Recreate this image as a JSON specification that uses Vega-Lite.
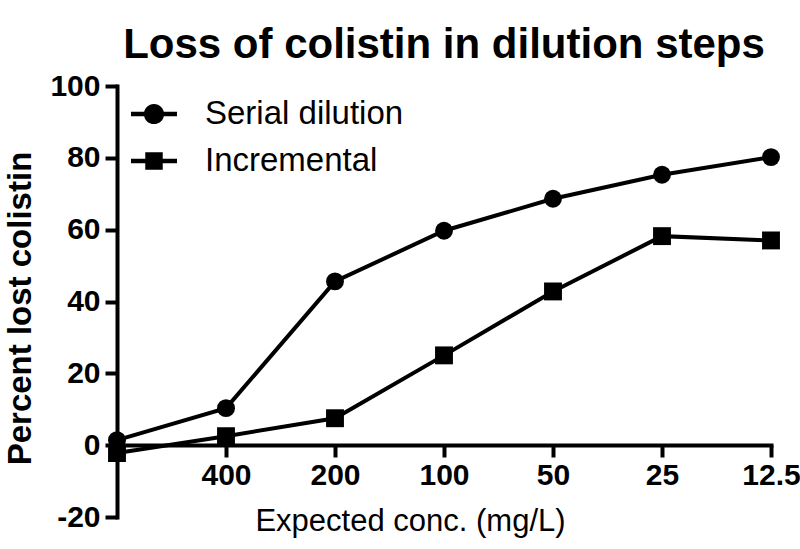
{
  "$schema": "https://vega.github.io/schema/vega-lite/v6.json",
  "width": 654,
  "height": 431,
  "autosize": "none",
  "padding": {"left": 117, "top": 86, "right": 29, "bottom": 32},
  "background": "white",
  "title": {
    "text": "Loss of colistin in dilution steps",
    "font": "Liberation Sans",
    "fontSize": 42,
    "fontWeight": "bold",
    "color": "black",
    "anchor": "middle",
    "frame": "group",
    "offset": 4
  },
  "config": {
    "view": {"stroke": null},
    "font": "Liberation Sans"
  },
  "data": {
    "values": [
      {"step": 0, "series": "Serial dilution", "pct": 1.4},
      {"step": 1, "series": "Serial dilution", "pct": 10.3},
      {"step": 2, "series": "Serial dilution", "pct": 45.6},
      {"step": 3, "series": "Serial dilution", "pct": 59.7},
      {"step": 4, "series": "Serial dilution", "pct": 68.6},
      {"step": 5, "series": "Serial dilution", "pct": 75.3},
      {"step": 6, "series": "Serial dilution", "pct": 80.2},
      {"step": 0, "series": "Incremental", "pct": -2.2},
      {"step": 1, "series": "Incremental", "pct": 2.5},
      {"step": 2, "series": "Incremental", "pct": 7.5},
      {"step": 3, "series": "Incremental", "pct": 25.0},
      {"step": 4, "series": "Incremental", "pct": 42.8},
      {"step": 5, "series": "Incremental", "pct": 58.2},
      {"step": 6, "series": "Incremental", "pct": 57.0}
    ]
  },
  "encoding": {
    "x": {
      "field": "step",
      "type": "quantitative",
      "scale": {"domain": [0, 6], "nice": false, "zero": false},
      "axis": {
        "title": "Expected conc. (mg/L)",
        "titleFont": "Liberation Sans",
        "titleFontSize": 31,
        "titleFontWeight": "normal",
        "titleColor": "black",
        "titlePadding": 16,
        "titleX": 293,
        "values": [1, 2, 3, 4, 5, 6],
        "labelExpr": "['800','400','200','100','50','25','12.5'][datum.value]",
        "labelFont": "Liberation Sans",
        "labelFontSize": 30,
        "labelFontWeight": "bold",
        "labelColor": "black",
        "labelPadding": 3,
        "labelOverlap": false,
        "labelFlush": false,
        "grid": false,
        "offset": -72,
        "domainColor": "black",
        "domainWidth": 4,
        "domainCap": "square",
        "tickColor": "black",
        "tickWidth": 4,
        "tickSize": 12
      }
    },
    "y": {
      "field": "pct",
      "type": "quantitative",
      "scale": {"domain": [-20, 100], "nice": false, "zero": false},
      "axis": {
        "title": "Percent lost colistin",
        "titleFont": "Liberation Sans",
        "titleFontSize": 33,
        "titleFontWeight": "bold",
        "titleColor": "black",
        "titlePadding": 12,
        "titleY": 222,
        "values": [-20, 0, 20, 40, 60, 80, 100],
        "labelExpr": "'' + datum.value",
        "labelFont": "Liberation Sans",
        "labelFontSize": 30,
        "labelFontWeight": "bold",
        "labelColor": "black",
        "labelPadding": 5,
        "labelOverlap": false,
        "labelFlush": false,
        "grid": false,
        "domainColor": "black",
        "domainWidth": 4,
        "domainCap": "square",
        "tickColor": "black",
        "tickWidth": 4,
        "tickSize": 12
      }
    }
  },
  "layer": [
    {
      "mark": {"type": "line", "color": "black", "strokeWidth": 4},
      "encoding": {"detail": {"field": "series", "type": "nominal"}}
    },
    {
      "mark": {"type": "point", "filled": true, "color": "black", "opacity": 1, "size": 320},
      "encoding": {
        "shape": {
          "field": "series",
          "type": "nominal",
          "scale": {"domain": ["Serial dilution", "Incremental"], "range": ["circle", "square"]},
          "legend": null
        }
      }
    },
    {
      "mark": {"type": "point", "filled": true, "color": "black", "opacity": 0, "size": 10},
      "encoding": {
        "shape": {
          "field": "series",
          "type": "nominal",
          "scale": {
            "domain": ["Serial dilution", "Incremental"],
            "range": [
              "M-1,-0.1H1V0.1H-1Z M0,-0.44A0.44,0.44 0 1,1 0,0.44A0.44,0.44 0 1,1 0,-0.44Z",
              "M-1,-0.1H1V0.1H-1Z M-0.38,-0.38H0.38V0.38H-0.38Z"
            ]
          },
          "legend": {
            "title": null,
            "orient": "none",
            "legendX": 14,
            "legendY": 5,
            "padding": 0,
            "symbolSize": 2116,
            "symbolFillColor": "black",
            "symbolOpacity": 1,
            "symbolStrokeWidth": 0,
            "labelFont": "Liberation Sans",
            "labelFontSize": 33,
            "labelColor": "black",
            "labelOffset": 28,
            "rowPadding": 7,
            "labelLimit": 400
          }
        }
      }
    }
  ],
  "resolve": {"scale": {"shape": "independent"}}
}
